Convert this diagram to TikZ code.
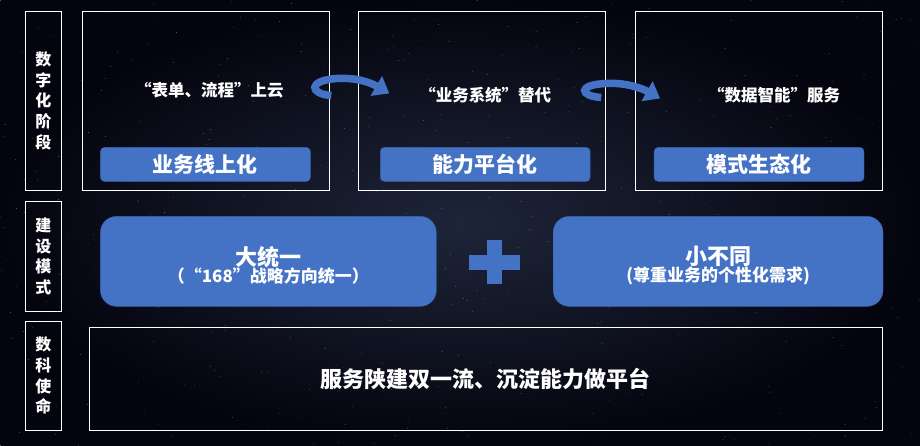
\documentclass[tikz,border=0pt]{standalone}
\usepackage{fontspec}
\setmainfont{Noto Sans CJK SC}
\usepackage{tikz}
\usetikzlibrary{arrows.meta}

\definecolor{tabblue}{HTML}{4472C4}
\definecolor{tabedge}{HTML}{3A62AA}
\definecolor{skydark}{HTML}{04040E}
\definecolor{skyglow}{HTML}{1E2539}

\tikzset{
  lblbox/.style={draw=white, line width=1.2pt, minimum width=36, text=white,
    font=\fontsize{16}{20.7}\selectfont\bfseries, align=center, inner sep=0},
  stagebox/.style={draw=white, line width=1pt, minimum width=247, minimum height=179},
  tabbox/.style={fill=tabblue, draw=tabedge, rounded corners=4pt, minimum width=210,
    minimum height=34, text=white, font=\fontsize{21}{24}\selectfont\bfseries},
  bigbox/.style={fill=tabblue, draw=tabedge, rounded corners=16pt, minimum height=90},
  bigtext/.style={text=white, align=center, yshift=-4pt},
  subtext/.style={text=white, font=\fontsize{16.5}{19}\selectfont\bfseries},
  curl/.style={draw=tabblue, line width=7.5pt, -{Triangle[width=22pt,length=15pt]}}
}

\begin{document}
\begin{tikzpicture}[x=1pt,y=-1pt]
        % night sky
        \shade[inner color=skyglow, outer color=skydark] (0,0) rectangle (920,445);
        \pgfmathsetseed{7}
        \foreach \i in {1,...,420}{
          \pgfmathsetmacro{\sx}{random(0,920)}
          \pgfmathsetmacro{\sy}{random(0,445)}
          \pgfmathsetmacro{\so}{0.1+0.3*rnd}
          \fill[white, opacity=\so] (\sx,\sy) circle (0.5);
        }
        \useasboundingbox (0,0) rectangle (920,445);

        % row labels
        \node[lblbox, minimum height=179] (stagelbl) at (43,100.5) {数\\字\\化\\阶\\段};
        \node[lblbox, minimum height=110] (modelbl) at (43,256) {建\\设\\模\\式};
        \node[lblbox, minimum height=109] (missionlbl) at (43,375.5) {数\\科\\使\\命};

        % stages
        \node[stagebox] (stage1) at (205.5,100.5) {};
        \node[stagebox] (stage2) at (482,100.5) {};
        \node[stagebox] (stage3) at (759,100.5) {};
        \node[subtext] (goal1) at (209,90) {“表单、流程”上云};
        \node[subtext] (goal2) at (485,95) {“业务系统”替代};
        \node[subtext] (goal3) at (774,95) {“数据智能”服务};
        \node[tabbox] (tab1) at (205,164) {业务线上化};
        \node[tabbox] (tab2) at (485,164) {能力平台化};
        \node[tabbox] (tab3) at (759,164) {模式生态化};

        % curled arrows between stages
        \coordinate (c1s) at (331,95); \coordinate (c1e) at (389,93);
        \coordinate (c2s) at (601,97); \coordinate (c2e) at (660,98);
        \draw[curl] (c1s) .. controls (310,94) and (306,80) .. (337,78)
                    .. controls (356,77) and (370,82) .. (c1e);
        \draw[curl] (c2s) .. controls (580,96) and (576,84) .. (607,83)
                    .. controls (626,82) and (642,88) .. (c2e);

        % building mode
        \node[bigbox, minimum width=336] (unify) at (268,261) {};
        \node[bigbox, minimum width=330] (differ) at (718,261) {};
        \node[bigtext] (unifytxt) at (unify.center) {%
          {\fontsize{22}{26}\selectfont\bfseries 大统一}\\[-1pt]
          {\fontsize{17}{20}\selectfont\bfseries （“168”战略方向统一）}};
        \node[bigtext] (differtxt) at (differ.center) {%
          {\fontsize{22}{26}\selectfont\bfseries 小不同}\\[-1pt]
          {\fontsize{17}{20}\selectfont\bfseries (尊重业务的个性化需求)}};
        \fill[tabblue] (469,255) rectangle (520,270);
        \fill[tabblue] (487,240) rectangle (502,284);

        % mission
        \node[draw=white, line width=1pt, minimum width=793, minimum height=103,
              text=white, font=\fontsize{22}{26}\selectfont\bfseries]
              (mission) at (485.5,378.5) {服务陕建双一流、沉淀能力做平台};
\end{tikzpicture}
\end{document}
